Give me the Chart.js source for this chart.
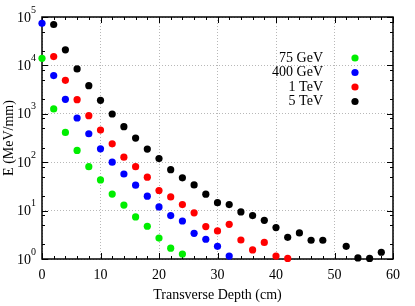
<!DOCTYPE html>
<html>
<head>
<meta charset="utf-8">
<script src="https://cdn.jsdelivr.net/npm/chart.js@4"></script>
<style>
  html, body { margin: 0; padding: 0; background: #fff; }
  #wrap { width: 415px; height: 306px; }
</style>
</head>
<body>
<div id="wrap"><canvas id="myChart"></canvas></div>
<script>
// transverse depth (cm)
var depth = [0, 2, 4, 6, 8, 10, 12, 14, 16, 18, 20, 22, 24, 26, 28, 30, 32, 34, 36, 38, 40, 42, 44, 46, 48, 50, 52, 54, 56, 58];

// energy deposit (MeV/mm), null = no point
var e75GeV = [14000, 1260, 412, 175, 81, 43, 22, 13, 7.4, 4.75, 2.7, 1.67, 1.27];
var e400GeV = [74000, 6150, 1990, 818, 387, 189, 100, 57, 33.6, 19.9, 11.9, 7.9, 6.1, 3.4, 2.56, 1.83, 1.15];
var e1TeV = [null, 15200, 4920, 1960, 914, 462, 240, 127, 81, 49, 26, 19.2, 13.3, 9, 4.67, 3.8, 5.2, 2.47, 1.54, 2.2, 1.15, 1.03];
var e5TeV = [null, 70000, 21000, 8460, 3820, 1900, 990, 541, 315, 187, 119, 70, 47.5, 34, 21.8, 14.6, 13.3, 9.4, 7.9, 6.3, 4.45, 2.81, 3.45, 2.44, 2.44, null, 1.83, 1.05, 1.03, 1.38];

var seriesNames = ['75 GeV', '400 GeV', '1 TeV', '5 TeV'];
var seriesColors = ['#00ee00', '#0000ff', '#ff0000', '#000000'];

var xTicks = [0, 10, 20, 30, 40, 50, 60];
var yExponents = [0, 1, 2, 3, 4, 5];

var FONT = '"Liberation Serif", "DejaVu Serif", serif';

function points(vals) {
  var out = [];
  vals.forEach(function (v, i) {
    if (v !== null) out.push({ x: depth[i], y: v });
  });
  return out;
}

var allSeries = [e75GeV, e400GeV, e1TeV, e5TeV];

var gnuplotFrame = {
  id: 'gnuplotFrame',
  beforeDatasetsDraw: function (chart) {
    var c = chart.ctx, a = chart.chartArea;
    var xs = chart.scales.x, ys = chart.scales.y;
    c.save();
    c.strokeStyle = '#000';
    c.lineWidth = 1;
    // x ticks, every 2 cm, long at labelled ones
    for (var v = 0; v <= 60; v += 2) {
      var px = Math.round(xs.getPixelForValue(v)) + 0.5;
      var len = v % 10 === 0 ? 6 : 3;
      c.beginPath();
      c.moveTo(px, a.bottom); c.lineTo(px, a.bottom - len);
      c.moveTo(px, a.top); c.lineTo(px, a.top + len);
      c.stroke();
    }
    // y ticks, decades plus 2, 5, 8
    yExponents.forEach(function (p) {
      [1, 2, 5, 8].forEach(function (m) {
        var val = m * Math.pow(10, p);
        if (val > 1e5) return;
        var py = Math.round(ys.getPixelForValue(val)) + 0.5;
        var len = m === 1 ? 6 : 3;
        c.beginPath();
        c.moveTo(a.left, py); c.lineTo(a.left + len, py);
        c.moveTo(a.right, py); c.lineTo(a.right - len, py);
        c.stroke();
      });
    });
    c.lineWidth = 1.5;
    c.strokeRect(a.left, a.top, a.right - a.left, a.bottom - a.top);
    c.restore();
  },
  afterDraw: function (chart) {
    var c = chart.ctx, a = chart.chartArea;
    var xs = chart.scales.x, ys = chart.scales.y;
    c.save();
    c.fillStyle = '#000';
    // x tick labels
    c.font = '14px ' + FONT;
    c.textAlign = 'center';
    c.textBaseline = 'middle';
    xTicks.forEach(function (t) {
      c.fillText(String(t), xs.getPixelForValue(t), a.bottom + 16);
    });
    // y tick labels 10^n
    yExponents.forEach(function (p) {
      var py = ys.getPixelForValue(Math.pow(10, p));
      c.font = '10px ' + FONT;
      c.textAlign = 'left';
      c.textBaseline = 'middle';
      var ew = c.measureText(String(p)).width;
      c.fillText(String(p), 36 - ew, py - 7);
      c.font = '14px ' + FONT;
      c.textAlign = 'right';
      c.fillText('10', 36 - ew, py + 1);
    });
    // axis titles
    c.font = '14px ' + FONT;
    c.textAlign = 'center';
    c.fillText('Transverse Depth (cm)', (a.left + a.right) / 2, a.bottom + 36);
    c.translate(9, (a.top + a.bottom) / 2);
    c.rotate(-Math.PI / 2);
    c.fillText('E (MeV/mm)', 0, 0);
    c.restore();
    // legend: text right of key point
    c.save();
    c.font = '14px ' + FONT;
    c.textAlign = 'right';
    c.textBaseline = 'middle';
    seriesNames.forEach(function (name, i) {
      var ly = 58 + i * 14.5;
      c.fillStyle = '#000';
      c.fillText(name, 323, ly);
      c.fillStyle = seriesColors[i];
      c.beginPath();
      c.arc(355, ly, 3.6, 0, Math.PI * 2);
      c.fill();
    });
    c.restore();
  }
};

var ctx = document.getElementById('myChart').getContext('2d');
var chart = new Chart(ctx, {
  type: 'scatter',
  data: {
    datasets: seriesNames.map(function (name, i) {
      return {
        label: name,
        data: points(allSeries[i]),
        backgroundColor: seriesColors[i],
        borderWidth: 0,
        pointRadius: 3.6,
        pointHoverRadius: 3.6,
        clip: false,
      };
    }),
  },
  plugins: [gnuplotFrame],
  options: {
    responsive: true,
    maintainAspectRatio: false,
    animation: false,
    events: [],
    layout: {
      padding: { left: 42, right: 22, top: 17, bottom: 47 },
    },
    plugins: {
      legend: { display: false },
      tooltip: { enabled: false },
    },
    scales: {
      x: {
        type: 'linear',
        min: 0,
        max: 60,
        afterBuildTicks: function (s) {
          s.ticks = xTicks.map(function (v) { return { value: v }; });
        },
        afterFit: function (s) { s.height = 0; },
        ticks: { display: false },
        border: { display: false, dash: [1, 2] },
        grid: {
          drawTicks: false,
          color: '#b8b8b8',
          lineWidth: 1,
        },
      },
      y: {
        type: 'logarithmic',
        min: 1,
        max: 100000,
        afterBuildTicks: function (s) {
          s.ticks = yExponents.map(function (p) { return { value: Math.pow(10, p) }; });
        },
        afterFit: function (s) { s.width = 0; },
        ticks: { display: false },
        border: { display: false, dash: [1, 2] },
        grid: {
          drawTicks: false,
          color: '#b8b8b8',
          lineWidth: 1,
        },
      },
    },
  },
});
</script>
</body>
</html>
